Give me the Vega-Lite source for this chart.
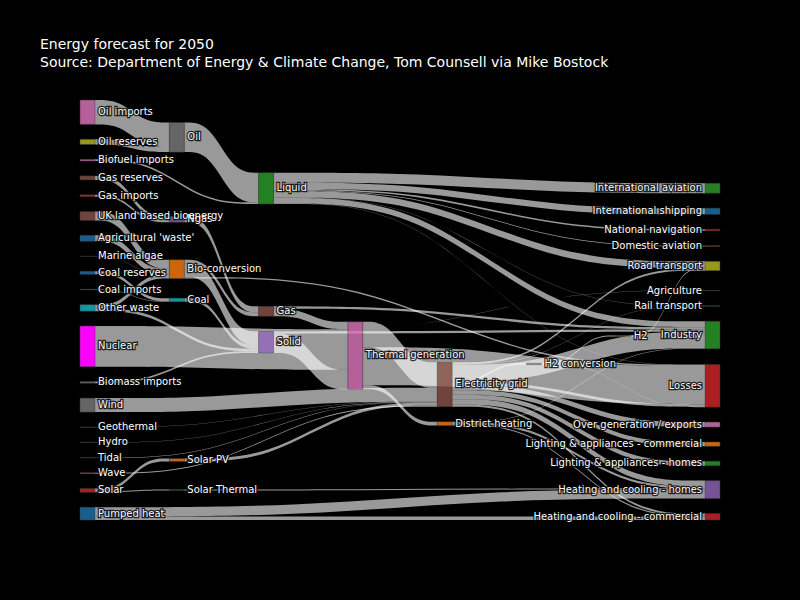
{
  "$schema": "https://vega.github.io/schema/vega-lite/v6.json",
  "width": 640,
  "height": 420,
  "autosize": "none",
  "padding": {"left": 80, "top": 100, "right": 80, "bottom": 80},
  "background": "black",
  "config": {"view": {"stroke": null}},
  "title": {
    "text": ["Energy forecast for 2050", "Source: Department of Energy & Climate Change, Tom Counsell via Mike Bostock"],
    "anchor": "start",
    "frame": "group",
    "dx": -40,
    "offset": 30,
    "font": "DejaVu Sans",
    "fontSize": 14,
    "fontWeight": "normal",
    "color": "white",
    "lineHeight": 17.7
  },
  "datasets": {
    "nodes": [
      {"name": "Agricultural 'waste'", "col": 0, "y": 2795.1},
      {"name": "Bio-conversion", "col": 1, "y": 3301},
      {"name": "Liquid", "col": 2, "y": 1501.6},
      {"name": "Losses", "col": 7, "y": 5465.3},
      {"name": "Solid", "col": 2, "y": 4780},
      {"name": "Gas", "col": 2, "y": 4263.7},
      {"name": "Biofuel imports", "col": 0, "y": 1226.4},
      {"name": "Biomass imports", "col": 0, "y": 5817.4},
      {"name": "Coal imports", "col": 0, "y": 3909.8},
      {"name": "Coal", "col": 1, "y": 4094},
      {"name": "Coal reserves", "col": 0, "y": 3538.6},
      {"name": "District heating", "col": 4, "y": 6648},
      {"name": "Industry", "col": 7, "y": 4572},
      {"name": "Heating and cooling - commercial", "col": 7, "y": 8543.5},
      {"name": "Heating and cooling - homes", "col": 7, "y": 7864.1},
      {"name": "Electricity grid", "col": 4, "y": 5419},
      {"name": "Over generation / exports", "col": 7, "y": 6654.5},
      {"name": "H2 conversion", "col": 5, "y": 5441},
      {"name": "Road transport", "col": 7, "y": 3332.5},
      {"name": "Agriculture", "col": 7, "y": 3936},
      {"name": "Rail transport", "col": 7, "y": 4250.6},
      {"name": "Lighting & appliances - commercial", "col": 7, "y": 7066.2},
      {"name": "Lighting & appliances - homes", "col": 7, "y": 7463.4},
      {"name": "Gas imports", "col": 0, "y": 1958},
      {"name": "Ngas", "col": 1, "y": 2403},
      {"name": "Gas reserves", "col": 0, "y": 1568.6},
      {"name": "Thermal generation", "col": 3, "y": 4583},
      {"name": "Geothermal", "col": 0, "y": 6756.2},
      {"name": "H2", "col": 6, "y": 4865.6},
      {"name": "Hydro", "col": 0, "y": 7070.4},
      {"name": "International shipping", "col": 7, "y": 2234.5},
      {"name": "Domestic aviation", "col": 7, "y": 3010.8},
      {"name": "International aviation", "col": 7, "y": 1721},
      {"name": "National navigation", "col": 7, "y": 2670.4},
      {"name": "Marine algae", "col": 0, "y": 3227},
      {"name": "Nuclear", "col": 0, "y": 4670.2},
      {"name": "Oil imports", "col": 0, "y": 0},
      {"name": "Oil", "col": 1, "y": 464.7},
      {"name": "Oil reserves", "col": 0, "y": 811.5},
      {"name": "Other waste", "col": 0, "y": 4228.6},
      {"name": "Pumped heat", "col": 0, "y": 8413.9},
      {"name": "Solar PV", "col": 1, "y": 7408},
      {"name": "Solar Thermal", "col": 1, "y": 8048},
      {"name": "Solar", "col": 0, "y": 8027.5},
      {"name": "Tidal", "col": 0, "y": 7384.6},
      {"name": "UK land based bioenergy", "col": 0, "y": 2305.9},
      {"name": "Wave", "col": 0, "y": 7701.3},
      {"name": "Wind", "col": 0, "y": 6159.6}
    ],
    "links": [
      {"source": "Agricultural 'waste'", "target": "Bio-conversion", "value": 124.729},
      {"source": "Bio-conversion", "target": "Liquid", "value": 0.597},
      {"source": "Bio-conversion", "target": "Losses", "value": 26.862},
      {"source": "Bio-conversion", "target": "Solid", "value": 280.322},
      {"source": "Bio-conversion", "target": "Gas", "value": 81.144},
      {"source": "Biofuel imports", "target": "Liquid", "value": 35},
      {"source": "Biomass imports", "target": "Solid", "value": 35},
      {"source": "Coal imports", "target": "Coal", "value": 11.606},
      {"source": "Coal reserves", "target": "Coal", "value": 63.965},
      {"source": "Coal", "target": "Solid", "value": 75.571},
      {"source": "District heating", "target": "Industry", "value": 10.639},
      {"source": "District heating", "target": "Heating and cooling - commercial", "value": 22.505},
      {"source": "District heating", "target": "Heating and cooling - homes", "value": 46.184},
      {"source": "Electricity grid", "target": "Over generation / exports", "value": 104.453},
      {"source": "Electricity grid", "target": "Heating and cooling - homes", "value": 113.726},
      {"source": "Electricity grid", "target": "H2 conversion", "value": 27.14},
      {"source": "Electricity grid", "target": "Industry", "value": 342.165},
      {"source": "Electricity grid", "target": "Road transport", "value": 37.797},
      {"source": "Electricity grid", "target": "Agriculture", "value": 4.412},
      {"source": "Electricity grid", "target": "Heating and cooling - commercial", "value": 40.858},
      {"source": "Electricity grid", "target": "Losses", "value": 56.691},
      {"source": "Electricity grid", "target": "Rail transport", "value": 7.863},
      {"source": "Electricity grid", "target": "Lighting & appliances - commercial", "value": 90.008},
      {"source": "Electricity grid", "target": "Lighting & appliances - homes", "value": 93.494},
      {"source": "Gas imports", "target": "Ngas", "value": 40.719},
      {"source": "Gas reserves", "target": "Ngas", "value": 82.233},
      {"source": "Gas", "target": "Heating and cooling - commercial", "value": 0.129},
      {"source": "Gas", "target": "Losses", "value": 1.401},
      {"source": "Gas", "target": "Thermal generation", "value": 151.891},
      {"source": "Gas", "target": "Agriculture", "value": 2.096},
      {"source": "Gas", "target": "Industry", "value": 48.58},
      {"source": "Geothermal", "target": "Electricity grid", "value": 7.013},
      {"source": "H2 conversion", "target": "H2", "value": 20.897},
      {"source": "H2 conversion", "target": "Losses", "value": 6.242},
      {"source": "H2", "target": "Road transport", "value": 20.897},
      {"source": "Hydro", "target": "Electricity grid", "value": 6.995},
      {"source": "Liquid", "target": "Industry", "value": 121.066},
      {"source": "Liquid", "target": "International shipping", "value": 128.69},
      {"source": "Liquid", "target": "Road transport", "value": 135.835},
      {"source": "Liquid", "target": "Domestic aviation", "value": 14.458},
      {"source": "Liquid", "target": "International aviation", "value": 206.267},
      {"source": "Liquid", "target": "Losses", "value": 3.64},
      {"source": "Liquid", "target": "National navigation", "value": 33.218},
      {"source": "Liquid", "target": "Rail transport", "value": 4.413},
      {"source": "Marine algae", "target": "Bio-conversion", "value": 4.375},
      {"source": "Ngas", "target": "Gas", "value": 122.952},
      {"source": "Nuclear", "target": "Thermal generation", "value": 839.978},
      {"source": "Oil imports", "target": "Oil", "value": 504.287},
      {"source": "Oil reserves", "target": "Oil", "value": 107.703},
      {"source": "Oil", "target": "Liquid", "value": 611.99},
      {"source": "Other waste", "target": "Solid", "value": 56.587},
      {"source": "Other waste", "target": "Bio-conversion", "value": 77.81},
      {"source": "Pumped heat", "target": "Heating and cooling - homes", "value": 193.026},
      {"source": "Pumped heat", "target": "Heating and cooling - commercial", "value": 70.672},
      {"source": "Solar PV", "target": "Electricity grid", "value": 59.901},
      {"source": "Solar Thermal", "target": "Heating and cooling - homes", "value": 19.263},
      {"source": "Solar", "target": "Solar Thermal", "value": 19.263},
      {"source": "Solar", "target": "Solar PV", "value": 59.901},
      {"source": "Solid", "target": "Agriculture", "value": 0.882},
      {"source": "Solid", "target": "Thermal generation", "value": 400.12},
      {"source": "Solid", "target": "Industry", "value": 46.477},
      {"source": "Thermal generation", "target": "Electricity grid", "value": 525.531},
      {"source": "Thermal generation", "target": "Losses", "value": 787.129},
      {"source": "Thermal generation", "target": "District heating", "value": 79.329},
      {"source": "Tidal", "target": "Electricity grid", "value": 9.452},
      {"source": "UK land based bioenergy", "target": "Bio-conversion", "value": 182.01},
      {"source": "Wave", "target": "Electricity grid", "value": 19.013},
      {"source": "Wind", "target": "Electricity grid", "value": 289.366}
    ]
  },
  "layer": [
    {
      "data": {"name": "links"},
      "transform": [
        {"lookup": "source", "from": {"data": {"name": "nodes"}, "key": "name", "fields": ["col", "y"]}, "as": ["scol", "sy"]},
        {"lookup": "target", "from": {"data": {"name": "nodes"}, "key": "name", "fields": ["col", "y"]}, "as": ["tcol", "ty"]},
        {"window": [{"op": "sum", "field": "value", "as": "send"}], "groupby": ["source"], "sort": [{"field": "ty", "order": "ascending"}], "frame": [null, 0]},
        {"window": [{"op": "sum", "field": "value", "as": "tend"}], "groupby": ["target"], "sort": [{"field": "sy", "order": "ascending"}], "frame": [null, 0]},
        {"calculate": "datum.scol + 0.168", "as": "x0"},
        {"calculate": "(datum.tcol - datum.x0) / 3", "as": "dxl"},
        {"calculate": "datum.sy + datum.send - datum.value", "as": "s0"},
        {"calculate": "datum.ty + datum.tend - datum.value", "as": "t0"},
        {"calculate": "[datum.x0, datum.x0 + datum.dxl, datum.tcol - datum.dxl, datum.tcol]", "as": "px"},
        {"calculate": "[datum.s0, datum.s0, datum.t0, datum.t0]", "as": "ptop"},
        {"calculate": "[datum.s0 + datum.value, datum.s0 + datum.value, datum.t0 + datum.value, datum.t0 + datum.value]", "as": "pbot"},
        {"flatten": ["px", "ptop", "pbot"]}
      ],
      "mark": {"type": "area", "orient": "vertical", "interpolate": "basis", "color": "white", "fillOpacity": 0.6},
      "encoding": {
        "x": {"field": "px", "type": "quantitative", "scale": {"domain": [0, 7.168], "nice": false, "zero": false}, "axis": null},
        "y": {"field": "ptop", "type": "quantitative", "scale": {"domain": [0, 8678], "reverse": true, "nice": false, "zero": false}, "axis": null, "stack": null},
        "y2": {"field": "pbot"},
        "detail": [{"field": "source"}, {"field": "target"}]
      }
    },
    {
      "data": {"name": "links"},
      "transform": [
        {"fold": ["source", "target"], "as": ["role", "name"]},
        {"aggregate": [{"op": "sum", "field": "value", "as": "v"}], "groupby": ["name", "role"]},
        {"aggregate": [{"op": "max", "field": "v", "as": "value"}], "groupby": ["name"]},
        {"lookup": "name", "from": {"data": {"name": "nodes"}, "key": "name", "fields": ["col", "y"]}},
        {"calculate": "datum.col + 0.168", "as": "x1"},
        {"calculate": "datum.y + datum.value", "as": "y1"},
        {"calculate": "datum.y + datum.value / 2", "as": "yc"}
      ],
      "layer": [
        {
          "mark": {"type": "rect", "stroke": "#444", "strokeWidth": 0.5},
          "encoding": {
            "x": {"field": "col", "type": "quantitative", "scale": {"domain": [0, 7.168], "nice": false, "zero": false}, "axis": null},
            "x2": {"field": "x1"},
            "y": {"field": "y", "type": "quantitative", "scale": {"domain": [0, 8678], "reverse": true, "nice": false, "zero": false}, "axis": null},
            "y2": {"field": "y1"},
            "color": {
              "field": "name", "type": "nominal", "legend": null,
              "scale": {
                "domain": ["Agricultural 'waste'", "Bio-conversion", "Liquid", "Losses", "Solid", "Gas", "Biofuel imports", "Biomass imports", "Coal imports", "Coal", "Coal reserves", "District heating", "Industry", "Heating and cooling - commercial", "Heating and cooling - homes", "Electricity grid", "Over generation / exports", "H2 conversion", "Road transport", "Agriculture", "Rail transport", "Lighting & appliances - commercial", "Lighting & appliances - homes", "Gas imports", "Ngas", "Gas reserves", "Thermal generation", "Geothermal", "H2", "Hydro", "International shipping", "Domestic aviation", "International aviation", "National navigation", "Marine algae", "Nuclear", "Oil imports", "Oil", "Oil reserves", "Other waste", "Pumped heat", "Solar PV", "Solar Thermal", "Solar", "Tidal", "UK land based bioenergy", "Wave", "Wind"],
                "range": ["#1f77b4", "#ff7f0e", "#2ca02c", "#d62728", "#9467bd", "#8c564b", "#e377c2", "#7f7f7f", "#bcbd22", "#17becf", "#1f77b4", "#ff7f0e", "#2ca02c", "#d62728", "#9467bd", "#8c564b", "#e377c2", "#7f7f7f", "#bcbd22", "#17becf", "#1f77b4", "#ff7f0e", "#2ca02c", "#d62728", "#9467bd", "#8c564b", "#e377c2", "#7f7f7f", "#bcbd22", "#17becf", "#1f77b4", "#ff7f0e", "#2ca02c", "#d62728", "#9467bd", "#ff00ff", "#e377c2", "#7f7f7f", "#bcbd22", "#17becf", "#1f77b4", "#ff7f0e", "#2ca02c", "#d62728", "#9467bd", "#8c564b", "#e377c2", "#7f7f7f"]
              }
            },
            "opacity": {"condition": {"test": "datum.name === 'Nuclear'", "value": 1}, "value": 0.8}
          }
        },
        {
          "transform": [{"filter": "datum.col < 7"}],
          "mark": {"type": "text", "align": "left", "baseline": "middle", "dx": 3, "font": "DejaVu Sans", "fontSize": 10, "fill": "black", "stroke": "black", "strokeWidth": 2.5, "strokeOpacity": 0.8},
          "encoding": {
            "x": {"field": "x1", "type": "quantitative", "scale": {"domain": [0, 7.168], "nice": false, "zero": false}, "axis": null},
            "y": {"field": "yc", "type": "quantitative", "scale": {"domain": [0, 8678], "reverse": true, "nice": false, "zero": false}, "axis": null},
            "text": {"field": "name"}
          }
        },
        {
          "transform": [{"filter": "datum.col < 7"}],
          "mark": {"type": "text", "align": "left", "baseline": "middle", "dx": 3, "font": "DejaVu Sans", "fontSize": 10, "fill": "white"},
          "encoding": {
            "x": {"field": "x1", "type": "quantitative", "scale": {"domain": [0, 7.168], "nice": false, "zero": false}, "axis": null},
            "y": {"field": "yc", "type": "quantitative", "scale": {"domain": [0, 8678], "reverse": true, "nice": false, "zero": false}, "axis": null},
            "text": {"field": "name"}
          }
        },
        {
          "transform": [{"filter": "datum.col == 7"}],
          "mark": {"type": "text", "align": "right", "baseline": "middle", "dx": -3, "font": "DejaVu Sans", "fontSize": 10, "fill": "black", "stroke": "black", "strokeWidth": 2.5, "strokeOpacity": 0.8},
          "encoding": {
            "x": {"field": "col", "type": "quantitative", "scale": {"domain": [0, 7.168], "nice": false, "zero": false}, "axis": null},
            "y": {"field": "yc", "type": "quantitative", "scale": {"domain": [0, 8678], "reverse": true, "nice": false, "zero": false}, "axis": null},
            "text": {"field": "name"}
          }
        },
        {
          "transform": [{"filter": "datum.col == 7"}],
          "mark": {"type": "text", "align": "right", "baseline": "middle", "dx": -3, "font": "DejaVu Sans", "fontSize": 10, "fill": "white"},
          "encoding": {
            "x": {"field": "col", "type": "quantitative", "scale": {"domain": [0, 7.168], "nice": false, "zero": false}, "axis": null},
            "y": {"field": "yc", "type": "quantitative", "scale": {"domain": [0, 8678], "reverse": true, "nice": false, "zero": false}, "axis": null},
            "text": {"field": "name"}
          }
        }
      ]
    }
  ]
}
